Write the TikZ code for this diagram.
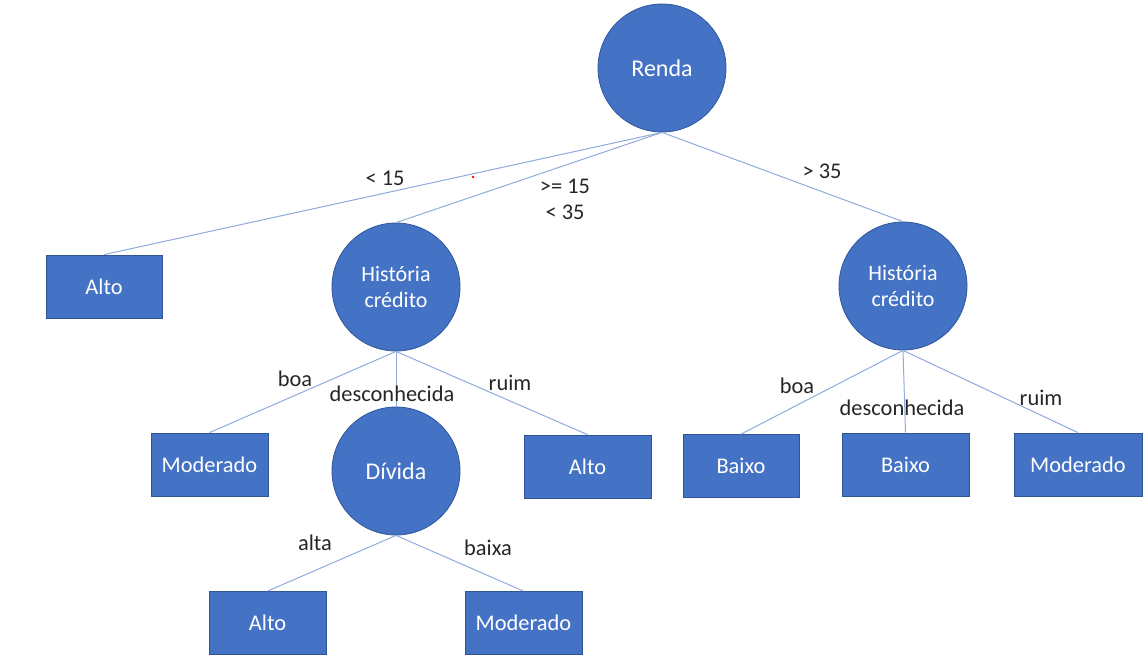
\documentclass[tikz,border=0pt]{standalone}
\usepackage{fontspec}
\setmainfont{Carlito}
\definecolor{nodeblue}{RGB}{68,114,196}
\definecolor{nodeedge}{RGB}{47,85,151}
\definecolor{edgeblue}{RGB}{143,170,220}
\tikzset{every picture/.style={line width=0.75pt}}
\tikzset{
  decision/.style={circle, draw=nodeedge, line width=0.6pt, fill=nodeblue, text=white, minimum size=96pt, inner sep=0pt, align=center, font=\fontsize{16.5}{20.2}\selectfont},
  leaf/.style={rectangle, draw=nodeedge, line width=0.6pt, fill=nodeblue, text=white, minimum height=47.25pt, inner sep=0pt, font=\fontsize{16.8}{20.2}\selectfont},
  branch/.style={draw=edgeblue, line width=0.75pt},
  cond/.style={inner sep=0pt, align=center, text=black!85, font=\fontsize{16.8}{19.5}\selectfont}
}
\begin{document}
\begin{tikzpicture}[x=0.75pt,y=0.75pt,yscale=-1,xscale=1]
	\useasboundingbox (0,0) rectangle (1148,662);

	% Decision nodes
	\node [decision, font=\fontsize{18}{21}\selectfont] (renda) at (662,68) {Renda};
	\node [decision] (histA) at (396,287) {História\\crédito};
	\node [decision] (histB) at (903,286) {História\\crédito};
	\node [decision, font=\fontsize{18}{21}\selectfont] (divida) at (396,471) {Dívida};

	% Leaves
	\node [leaf, minimum width=87pt] (altoA) at (104,286.5) {Alto};
	\node [leaf, minimum width=87.75pt] (modA) at (209.5,464.5) {Moderado};
	\node [leaf, minimum width=95.25pt] (altoB) at (587.5,466.5) {Alto};
	\node [leaf, minimum width=87pt] (baixoA) at (741,466) {Baixo};
	\node [leaf, minimum width=95.25pt] (baixoB) at (905.5,464.5) {Baixo};
	\node [leaf, minimum width=96pt] (modB) at (1078,464.5) {Moderado};
	\node [leaf, minimum width=87.75pt] (altoC) at (267.5,623) {Alto};
	\node [leaf, minimum width=87.75pt] (modC) at (523.5,623) {Moderado};

	% Branches
	\draw [branch] (renda.south) -- (altoA.north);
	\draw [branch] (renda.south) -- (histA.north);
	\draw [branch] (renda.south) -- (histB.north);
	\draw [branch] (histA.south) -- (modA.north);
	\draw [branch] (histA.south) -- (divida.north);
	\draw [branch] (histA.south) -- (altoB.north);
	\draw [branch] (histB.south) -- (baixoA.north);
	\draw [branch] (histB.south) -- (baixoB.north);
	\draw [branch] (histB.south) -- (modB.north);
	\draw [branch] (divida.south) -- (altoC.north);
	\draw [branch] (divida.south) -- (modC.north);

	% Branch labels
	\node [cond] (lt15) at (385,178) {< 15};
	\node [cond] (mid) at (565,199) {>= 15\\< 35};
	\node [cond] (gt35) at (822,171) {> 35};
	\node [cond] (boaA) at (295,379) {boa};
	\node [cond] (descA) at (392,394) {desconhecida};
	\node [cond] (ruimA) at (510,383) {ruim};
	\node [cond] (boaB) at (797,386) {boa};
	\node [cond] (descB) at (902,408) {desconhecida};
	\node [cond] (ruimB) at (1041,398) {ruim};
	\node [cond] (alta) at (315,543) {alta};
	\node [cond] (baixa) at (488,548) {baixa};

	% stray mark
	\fill [red] (473,177) circle (1.4);
\end{tikzpicture}
\end{document}
